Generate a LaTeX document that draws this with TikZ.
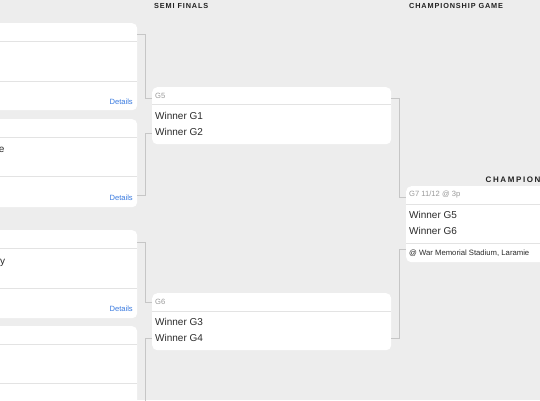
\documentclass[tikz,border=0pt]{standalone}
\usepackage{fontspec}
\setmainfont{Liberation Sans}
\newfontfamily\hdfont[LetterSpace=12]{Liberation Sans}
\newfontfamily\bighdfont[LetterSpace=20]{Liberation Sans}
\definecolor{bg}{HTML}{EDEDED}
\definecolor{sepc}{HTML}{E3E3E3}
\definecolor{connc}{HTML}{C6C6C6}
\definecolor{txt}{HTML}{2B2B2B}
\definecolor{lab}{HTML}{999999}
\definecolor{link}{HTML}{3A7BE0}
\definecolor{hdc}{HTML}{222222}
\tikzset{
  card/.style={fill=white, draw=none, rounded corners=5pt, anchor=north west, inner sep=0pt},
  sepline/.style={draw=sepc, line width=0.9pt},
  conn/.style={draw=connc, line width=0.9pt},
  team/.style={anchor=west, inner sep=0pt, text=txt, font=\fontsize{10}{12}\selectfont},
  gamelab/.style={anchor=west, inner sep=0pt, text=lab, font=\fontsize{7.6}{9}\selectfont},
  venue/.style={anchor=west, inner sep=0pt, text=txt, font=\fontsize{7.7}{9}\selectfont},
  details/.style={anchor=east, inner sep=0pt, text=link, font=\fontsize{7.6}{9}\selectfont},
  roundhead/.style={anchor=west, inner sep=0pt, text=hdc, font=\hdfont\bfseries\fontsize{7.3}{8}\selectfont},
  bighead/.style={anchor=west, inner sep=0pt, text=hdc, font=\bighdfont\bfseries\fontsize{8}{9}\selectfont},
}
\begin{document}
\begin{tikzpicture}[x=1pt,y=-1pt]
\clip (0,0) rectangle (540,400);
\fill[bg] (0,0) rectangle (540,400);

% headers
\node[roundhead] (hsemi) at (154,5.5) {SEMI FINALS};
\node[roundhead] (hchamp) at (409,5.5) {CHAMPIONSHIP GAME};
\node[bighead] (hchampion) at (485.5,180) {CHAMPION};

% first-round cards
\node[card, minimum width=147pt, minimum height=87pt] (c1) at (-10,23) {};
\node[card, minimum width=147pt, minimum height=88pt] (c2) at (-10,119) {};
\node[card, minimum width=147pt, minimum height=88pt] (c3) at (-10,230) {};
\node[card, minimum width=147pt, minimum height=100pt] (c4) at (-10,326) {};

\draw[sepline] (c1.west |- 0,41.5) -- (c1.east |- 0,41.5);
\draw[sepline] (c1.west |- 0,81) -- (c1.east |- 0,81);
\draw[sepline] (c2.west |- 0,137.5) -- (c2.east |- 0,137.5);
\draw[sepline] (c2.west |- 0,176.5) -- (c2.east |- 0,176.5);
\draw[sepline] (c3.west |- 0,248.5) -- (c3.east |- 0,248.5);
\draw[sepline] (c3.west |- 0,288) -- (c3.east |- 0,288);
\draw[sepline] (c4.west |- 0,344) -- (c4.east |- 0,344);
\draw[sepline] (c4.west |- 0,383) -- (c4.east |- 0,383);

\node[details] (d1) at (133,102) {Details};
\node[details] (d2) at (133,198) {Details};
\node[details] (d3) at (133,309) {Details};

\node[anchor=base east, inner sep=0pt, text=txt, font=\fontsize{10}{12}\selectfont] (t2) at (4.6,152.5) {e};
\node[anchor=base east, inner sep=0pt, text=txt, font=\fontsize{10}{12}\selectfont] (t3) at (5.2,264.5) {y};

% semi-final cards
\node[card, minimum width=239pt, minimum height=57pt] (g5) at (152,87) {};
\draw[sepline] (g5.west |- 0,104) -- (g5.east |- 0,104);
\node[gamelab] (g5l) at (155,95.5) {G5};
\node[team] (g5a) at (155,116) {Winner G1};
\node[team] (g5b) at (155,132) {Winner G2};

\node[card, minimum width=239pt, minimum height=57pt] (g6) at (152,293) {};
\draw[sepline] (g6.west |- 0,311) -- (g6.east |- 0,311);
\node[gamelab] (g6l) at (155,302) {G6};
\node[team] (g6a) at (155,322) {Winner G3};
\node[team] (g6b) at (155,338) {Winner G4};

% championship card
\node[card, minimum width=150pt, minimum height=76pt] (g7) at (406,186) {};
\draw[sepline] (g7.west |- 0,204) -- (g7.east |- 0,204);
\draw[sepline] (g7.west |- 0,243) -- (g7.east |- 0,243);
\node[gamelab] (g7l) at (409,195) {G7 11/12 @ 3p};
\node[team] (g7a) at (409,215) {Winner G5};
\node[team] (g7b) at (409,231) {Winner G6};
\node[venue] (g7v) at (409,253) {@ War Memorial Stadium, Laramie};

% connectors
\coordinate (c4out) at (145,405);
\draw[conn] (c1.east |- 0,34) -- (145,34) -- (145,98) -- (g5.west |- 0,98);
\draw[conn] (c2.east |- 0,195) -- (145,195) -- (145,133) -- (g5.west |- 0,133);
\draw[conn] (c3.east |- 0,242) -- (145,242) -- (145,302) -- (g6.west |- 0,302);
\draw[conn] (c4out) -- (145,338) -- (g6.west |- 0,338);
\draw[conn] (g5.east |- 0,98) -- (399,98) -- (399,197) -- (g7.west |- 0,197);
\draw[conn] (g6.east |- 0,338) -- (399,338) -- (399,249) -- (g7.west |- 0,249);
\end{tikzpicture}
\end{document}
